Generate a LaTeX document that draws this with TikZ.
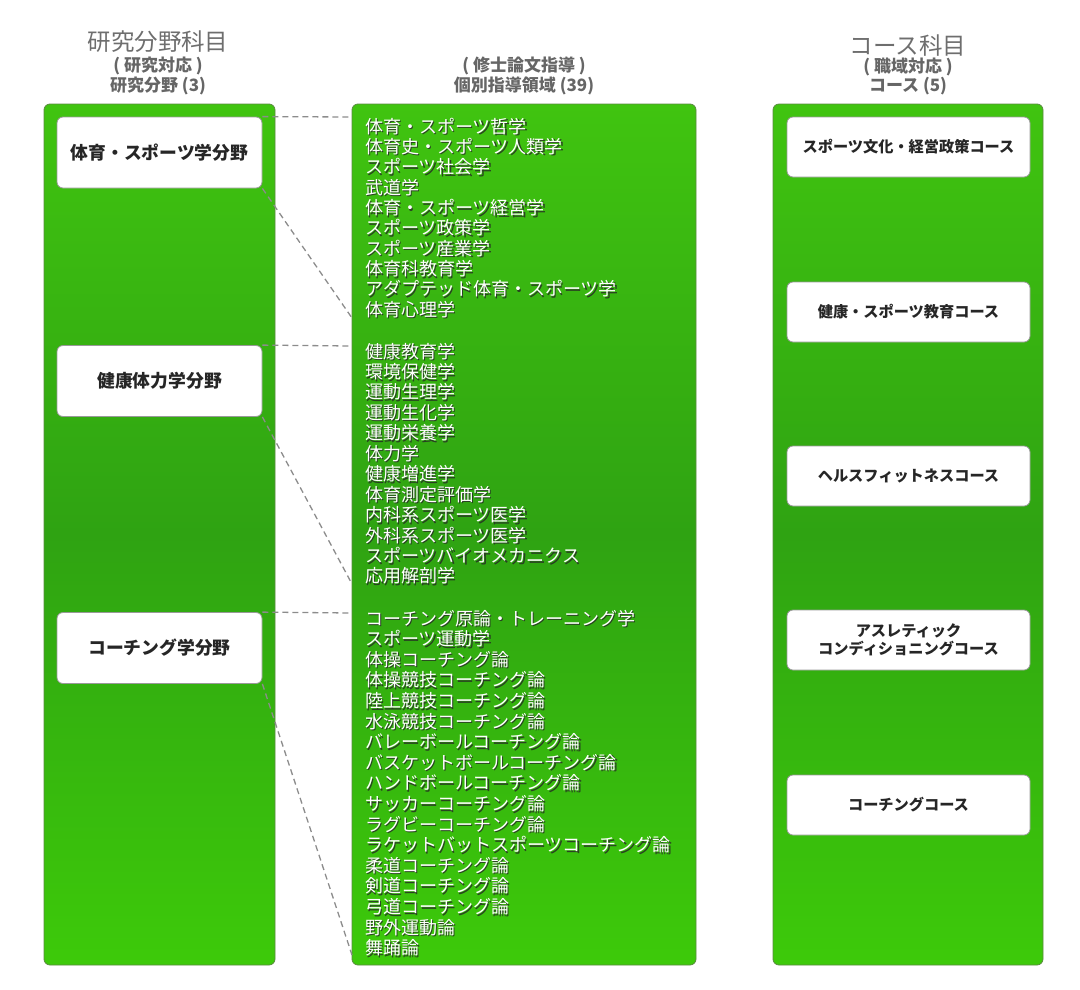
\documentclass[tikz,border=0pt]{standalone}
\usepackage{fontspec}
\newfontfamily\jp{Noto Sans CJK JP}
\definecolor{gtop}{HTML}{40C410}
\definecolor{gmid}{HTML}{2FA312}
\definecolor{gbot}{HTML}{3DCA0A}
\definecolor{gline}{HTML}{5A8A40}
\definecolor{hgrey}{HTML}{6E6E6E}
\definecolor{sgrey}{HTML}{666666}
\definecolor{dgrey}{HTML}{8C8C8C}
\tikzset{
  colbox/.style={rounded corners=6pt, draw=gline, line width=0.8pt,
    top color=gtop, bottom color=gbot, middle color=gmid, inner sep=0pt},
  wbox/.style={rounded corners=6pt, draw=black!40, line width=0.8pt, fill=white,
    align=center, inner sep=0pt, text=black!85},
  lbox/.style={wbox, minimum width=205pt, minimum height=71pt,
    font=\jp\bfseries\fontsize{17.8}{20}\selectfont},
  rbox/.style={wbox, minimum width=243pt, minimum height=60pt,
    font=\jp\bfseries\fontsize{15.2}{18.5}\selectfont},
  bighead/.style={text=hgrey, font=\jp\fontsize{23.5}{25}\selectfont, inner sep=0pt},
  subhead/.style={text=sgrey, font=\jp\bfseries\fontsize{17}{19}\selectfont, inner sep=0pt},
  listtxt/.style={anchor=base west, inner sep=0pt, text=white,
    font=\jp\fontsize{18}{20}\selectfont},
  shadtxt/.style={listtxt, text=black!85, opacity=0.8},
  link/.style={draw=dgrey, line width=1.3pt, dash pattern=on 6pt off 4pt}
}
\begin{document}
\begin{tikzpicture}[x=1pt,y=-1pt]
\useasboundingbox (0,0) rectangle (1080,989);
% headers
\node[bighead] (hL) at (158,42) {研究分野科目};
\node[subhead] (hL1) at (158,66) {( 研究対応 )};
\node[subhead] (hL2) at (158,86) {研究分野 (3)};
\node[subhead] (hM1) at (524,66) {( 修士論文指導 )};
\node[subhead] (hM2) at (524,86) {個別指導領域 (39)};
\node[bighead] (hR) at (908,46) {コース科目};
\node[subhead] (hR1) at (908,67) {( 職域対応 )};
\node[subhead] (hR2) at (908,86) {コース (5)};
% columns
\node[colbox, minimum width=231pt, minimum height=861pt] (L) at (159.5,534.5) {};
\node[colbox, minimum width=344pt, minimum height=861pt] (M) at (524,534.5) {};
\node[colbox, minimum width=270pt, minimum height=861pt] (R) at (908,534.5) {};
% left boxes
\node[lbox] (L1) at (159.5,152.5) {体育・スポーツ学分野};
\node[lbox] (L2) at (159.5,381) {健康体力学分野};
\node[lbox] (L3) at (159.5,648) {コーチング学分野};
% right boxes
\node[rbox] (R1) at (908.5,147) {スポーツ文化・経営政策コース};
\node[rbox] (R2) at (908.5,312) {健康・スポーツ教育コース};
\node[rbox] (R3) at (908.5,476) {ヘルスフィットネスコース};
\node[rbox] (R4) at (908.5,640) {アスレティック\\コンディショニングコース};
\node[rbox] (R5) at (908.5,805) {コーチングコース};
% list group 1
\foreach \t [count=\i] in {体育・スポーツ哲学,体育史・スポーツ人類学,スポーツ社会学,武道学,体育・スポーツ経営学,スポーツ政策学,スポーツ産業学,体育科教育学,アダプテッド体育・スポーツ学,体育心理学}{
  \node[shadtxt] (sa\i) at (366.6,{133+20.35*(\i-1)+1.6}) {\t};
  \node[listtxt] (a\i) at (365,{133+20.35*(\i-1)}) {\t};
}
% list group 2
\foreach \t [count=\i] in {健康教育学,環境保健学,運動生理学,運動生化学,運動栄養学,体力学,健康増進学,体育測定評価学,内科系スポーツ医学,外科系スポーツ医学,スポーツバイオメカニクス,応用解剖学}{
  \node[shadtxt] (sb\i) at (366.6,{358+20.45*(\i-1)+1.6}) {\t};
  \node[listtxt] (b\i) at (365,{358+20.45*(\i-1)}) {\t};
}
% list group 3
\foreach \t [count=\i] in {コーチング原論・トレーニング学,スポーツ運動学,体操コーチング論,体操競技コーチング論,陸上競技コーチング論,水泳競技コーチング論,バレーボールコーチング論,バスケットボールコーチング論,ハンドボールコーチング論,サッカーコーチング論,ラグビーコーチング論,ラケットバットスポーツコーチング論,柔道コーチング論,剣道コーチング論,弓道コーチング論,野外運動論,舞踊論}{
  \node[shadtxt] (sc\i) at (366.6,{625+20.6*(\i-1)+1.6}) {\t};
  \node[listtxt] (c\i) at (365,{625+20.6*(\i-1)}) {\t};
}
% connector end points on the middle column
\coordinate (m1t) at (352,117);
\coordinate (m1b) at (352,318);
\coordinate (m2t) at (352,346);
\coordinate (m2b) at (352,584);
\coordinate (m3t) at (352,613);
\coordinate (m3b) at (352,955);
\draw[link] (L1.north east) -- (m1t);
\draw[link] (L1.south east) -- (m1b);
\draw[link] (L2.north east) -- (m2t);
\draw[link] (L2.south east) -- (m2b);
\draw[link] (L3.north east) -- (m3t);
\draw[link] (L3.south east) -- (m3b);
\end{tikzpicture}
\end{document}
